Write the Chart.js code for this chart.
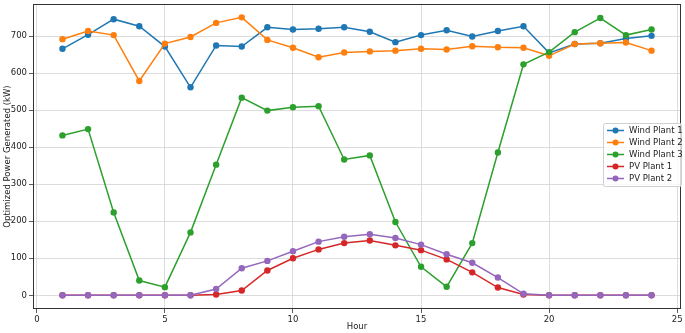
<!DOCTYPE html>
<html>
<head>
<meta charset="utf-8">
<script src="https://cdn.jsdelivr.net/npm/chart.js@4.4.1/dist/chart.umd.min.js"></script>
<style>
  html, body { margin: 0; padding: 0; background: #fff; }
  #wrap { width: 685px; height: 333px; }
</style>
</head>
<body>
<div id="wrap"><canvas id="chart"></canvas></div>
<script>
// hours 1..24
const hours = [1,2,3,4,5,6,7,8,9,10,11,12,13,14,15,16,17,18,19,20,21,22,23,24];

const wind1 = [666,704,746,727,672,562,675,672,724,718,720,724,712,684,703,716,699,714,727,655,679,681,694,701];
const wind2 = [692,714,703,579,680,698,736,751,690,669,643,656,659,661,666,664,673,670,669,647,679,681,683,661];
const wind3 = [432,449,224,40,22,170,353,534,499,508,511,367,378,198,77,23,141,386,624,657,711,749,703,718];
const pv1   = [0,0,0,0,0,0,2,13,67,100,124,141,148,135,122,97,62,21,2,0,0,0,0,0];
const pv2   = [0,0,0,0,0,0,17,73,93,119,145,158,165,155,137,111,88,48,4,0,0,0,0,0];

const seriesNames = ["Wind Plant 1","Wind Plant 2","Wind Plant 3","PV Plant 1","PV Plant 2"];
const seriesColours = ["#1f77b4","#ff7f0e","#2ca02c","#d62728","#9467bd"];
const xTicks = [0,5,10,15,20,25];
const yTicks = [0,100,200,300,400,500,600,700];

const FONT = "DejaVu Sans";
const allSeries = [wind1, wind2, wind3, pv1, pv2];

const datasets = allSeries.map((vals, i) => ({
  label: seriesNames[i],
  data: hours.map((h, j) => ({ x: h, y: vals[j] })),
  borderColor: seriesColours[i],
  backgroundColor: seriesColours[i],
  borderWidth: 1.5,
  pointRadius: 3.2,
  pointBorderWidth: 0,
  tension: 0,
  order: 4 - i   // later series on top, like matplotlib
}));

// frame round the plot + legend box inside the plot
const frameAndLegend = {
  id: "frameAndLegend",
  afterDatasetsDraw(chart) {
    const { ctx, chartArea: a } = chart;
    ctx.save();
    ctx.strokeStyle = "#333";
    ctx.lineWidth = 1;
    ctx.strokeRect(a.left + 0.5, a.top + 0.5, a.right - a.left - 1, a.bottom - a.top - 1);

    // legend
    const bx = 603, by = 123, bw = 78, bh = 63;
    ctx.fillStyle = "rgba(255,255,255,0.8)";
    ctx.strokeStyle = "#d0d0d0";
    ctx.beginPath();
    ctx.roundRect(bx + 0.5, by + 0.5, bw, bh, 2);
    ctx.fill();
    ctx.stroke();
    ctx.font = "8.5px '" + FONT + "'";
    ctx.textBaseline = "middle";
    seriesNames.forEach((name, i) => {
      const y = by + 7.5 + i * 12;
      ctx.strokeStyle = seriesColours[i];
      ctx.lineWidth = 1.5;
      ctx.beginPath();
      ctx.moveTo(bx + 4, y);
      ctx.lineTo(bx + 21, y);
      ctx.stroke();
      ctx.fillStyle = seriesColours[i];
      ctx.beginPath();
      ctx.arc(bx + 12.5, y, 3, 0, Math.PI * 2);
      ctx.fill();
      ctx.fillStyle = "#222";
      ctx.fillText(name, bx + 26, y + 0.5);
    });
    ctx.restore();
  }
};

new Chart(document.getElementById("chart"), {
  type: "line",
  data: { datasets },
  options: {
    responsive: true,
    maintainAspectRatio: false,
    animation: false,
    layout: { padding: { top: -2, right: 2, left: 0, bottom: 0 } },
    plugins: {
      legend: { display: false },
      tooltip: { enabled: false }
    },
    scales: {
      x: {
        type: "linear",
        min: -0.15,
        max: 25.15,
        afterBuildTicks: (scale) => { scale.ticks = xTicks.map(v => ({ value: v })); },
        afterFit: (scale) => { scale.height = 24; scale.paddingLeft = 0; scale.paddingRight = 0; },
        grid: { color: "#d3d3d3", lineWidth: 0.8, tickLength: 4, tickColor: "#333" },
        border: { display: false },
        ticks: { color: "#222", font: { family: FONT, size: 8.5 }, maxRotation: 0, padding: 2 },
        title: { display: true, text: "Hour", color: "#222", font: { family: FONT, size: 8.5 }, padding: { top: 0, bottom: 1 } }
      },
      y: {
        min: -37,
        max: 787,
        afterBuildTicks: (scale) => { scale.ticks = yTicks.map(v => ({ value: v })); },
        afterFit: (scale) => { scale.width = 33; scale.paddingTop = 0; scale.paddingBottom = 0; },
        grid: { color: "#d3d3d3", lineWidth: 0.8, tickLength: 4, tickColor: "#333" },
        border: { display: false },
        ticks: { color: "#222", font: { family: FONT, size: 8.5 }, padding: 2 },
        title: { display: true, text: "Optimized Power Generated (kW)", color: "#222", font: { family: FONT, size: 8.5 }, padding: { top: 3, bottom: 0 } }
      }
    }
  },
  plugins: [frameAndLegend]
});
</script>
</body>
</html>
